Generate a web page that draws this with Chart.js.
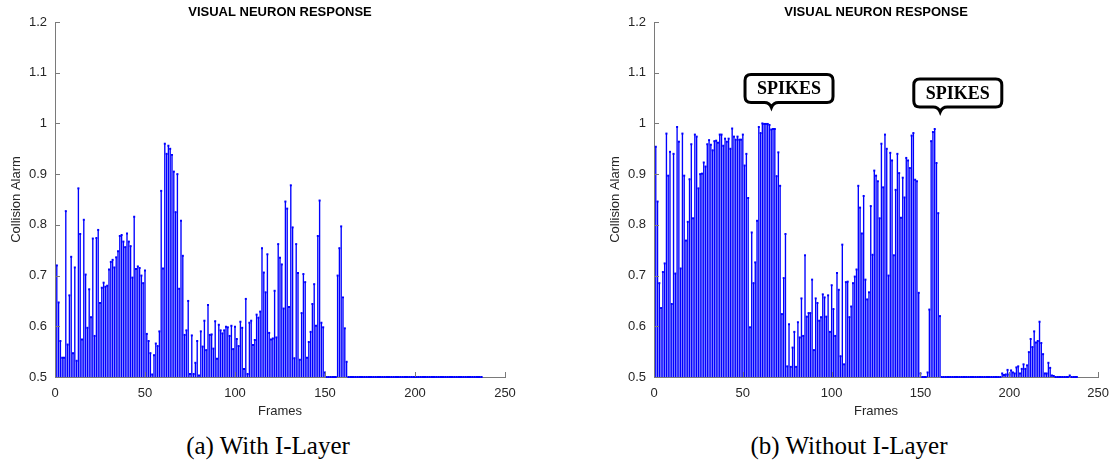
<!DOCTYPE html>
<html>
<head>
<meta charset="utf-8">
<script src="https://cdn.jsdelivr.net/npm/chart.js@4.4.1/dist/chart.umd.min.js"></script>
<style>
  body { margin: 0; background: #fff; width: 1118px; height: 465px; position: relative; overflow: hidden; }
  .plot { position: absolute; top: 0; height: 430px; }
  #left { left: 0; width: 560px; }
  #right { left: 599px; width: 519px; }
  .cap { position: absolute; top: 432px; line-height: 27px; font-family: "Liberation Serif", "Times New Roman", serif;
         font-size: 25px; color: #000; white-space: nowrap; transform: translateX(-50%); }
</style>
</head>
<body>
<div class="plot" id="left"><canvas id="chartA"></canvas></div>
<div class="plot" id="right"><canvas id="chartB"></canvas></div>
<div class="cap" style="left:268px">(a) With I-Layer</div>
<div class="cap" style="left:849px">(b) Without I-Layer</div>
<script>
// collision alarm per frame, starting at frame 1
const withILayer = [
  0.72, 0.647, 0.571, 0.538, 0.538, 0.827, 0.564, 0.661, 0.737, 0.547,
  0.716, 0.532, 0.872, 0.782, 0.574, 0.81, 0.702, 0.597, 0.673, 0.618,
  0.773, 0.581, 0.774, 0.79, 0.646, 0.676, 0.686, 0.678, 0.68, 0.712,
  0.727, 0.731, 0.716, 0.736, 0.748, 0.778, 0.78, 0.767, 0.756, 0.783,
  0.767, 0.758, 0.696, 0.816, 0.713, 0.718, 0.715, 0.7, 0.685, 0.71,
  0.585, 0.571, 0.547, 0.505, 0.543, 0.566, 0.561, 0.59, 0.867, 0.714,
  0.96, 0.94, 0.956, 0.95, 0.938, 0.905, 0.825, 0.9, 0.674, 0.808,
  0.739, 0.583, 0.592, 0.65, 0.506, 0.582, 0.506, 0.528, 0.571, 0.503,
  0.59, 0.56, 0.611, 0.553, 0.642, 0.583, 0.584, 0.556, 0.61, 0.536,
  0.603, 0.592, 0.586, 0.592, 0.599, 0.598, 0.581, 0.601, 0.555, 0.599,
  0.575, 0.561, 0.609, 0.597, 0.516, 0.654, 0.506, 0.607, 0.611, 0.563,
  0.573, 0.623, 0.617, 0.629, 0.754, 0.706, 0.667, 0.742, 0.587, 0.574,
  0.576, 0.67, 0.578, 0.762, 0.735, 0.722, 0.635, 0.846, 0.832, 0.638,
  0.878, 0.795, 0.537, 0.762, 0.705, 0.534, 0.626, 0.703, 0.687, 0.538,
  0.569, 0.589, 0.644, 0.683, 0.601, 0.778, 0.848, 0.607, 0.598, 0.509,
  0.5, 0.5, 0.5, 0.5, 0.5, 0.5, 0.7, 0.754, 0.797, 0.657,
  0.596, 0.53, 0.5, 0.5, 0.5, 0.5, 0.5, 0.5, 0.5, 0.5,
  0.5, 0.5, 0.5, 0.5, 0.5, 0.5, 0.5, 0.5, 0.5, 0.5,
  0.5, 0.5, 0.5, 0.5, 0.5, 0.5, 0.5, 0.5, 0.5, 0.5,
  0.5, 0.5, 0.5, 0.5, 0.5, 0.5, 0.5, 0.5, 0.5, 0.5,
  0.5, 0.5, 0.5, 0.5, 0.5, 0.5, 0.5, 0.5, 0.5, 0.5,
  0.5, 0.5, 0.5, 0.5, 0.5, 0.5, 0.5, 0.5, 0.5, 0.5,
  0.5, 0.5, 0.5, 0.5, 0.5, 0.5, 0.5, 0.5, 0.5, 0.5,
  0.5, 0.5, 0.5, 0.5, 0.5, 0.5, 0.5
];

const withoutILayer = [
  0.954, 0.846, 0.685, 0.636, 0.707, 0.724, 0.98, 0.897, 0.944, 0.644,
  0.94, 0.704, 0.993, 0.964, 0.714, 0.98, 0.897, 0.769, 0.806, 0.89,
  0.959, 0.813, 0.978, 0.974, 0.872, 0.9, 0.901, 0.923, 0.915, 0.959,
  0.967, 0.958, 0.947, 0.965, 0.966, 0.962, 0.978, 0.978, 0.956, 0.97,
  0.964, 0.97, 0.95, 0.99, 0.974, 0.968, 0.974, 0.968, 0.968, 0.978,
  0.917, 0.94, 0.853, 0.598, 0.785, 0.685, 0.726, 0.808, 0.993, 0.981,
  1.0, 0.999, 0.999, 0.999, 0.997, 0.988, 0.989, 0.989, 0.896, 0.943,
  0.877, 0.624, 0.695, 0.782, 0.521, 0.604, 0.52, 0.558, 0.589, 0.52,
  0.608, 0.578, 0.655, 0.581, 0.74, 0.619, 0.626, 0.626, 0.692, 0.553,
  0.655, 0.646, 0.611, 0.618, 0.663, 0.657, 0.619, 0.661, 0.589, 0.681,
  0.634, 0.581, 0.705, 0.672, 0.541, 0.761, 0.525, 0.687, 0.688, 0.618,
  0.639, 0.685, 0.698, 0.712, 0.877, 0.834, 0.783, 0.857, 0.692, 0.653,
  0.667, 0.837, 0.741, 0.907, 0.897, 0.886, 0.813, 0.96, 0.874, 0.978,
  0.95, 0.7, 0.942, 0.927, 0.74, 0.869, 0.94, 0.902, 0.814, 0.893,
  0.854, 0.932, 0.927, 0.912, 0.976, 0.981, 0.889, 0.886, 0.666, 0.507,
  0.5, 0.5, 0.5, 0.509, 0.633, 0.965, 0.983, 0.989, 0.922, 0.823,
  0.62, 0.5, 0.5, 0.5, 0.5, 0.5, 0.5, 0.5, 0.5, 0.5,
  0.5, 0.5, 0.5, 0.5, 0.5, 0.5, 0.5, 0.5, 0.5, 0.5,
  0.5, 0.5, 0.5, 0.5, 0.5, 0.5, 0.5, 0.5, 0.5, 0.5,
  0.5, 0.5, 0.5, 0.5, 0.5, 0.507, 0.504, 0.505, 0.514, 0.505,
  0.513, 0.509, 0.507, 0.519, 0.521, 0.507, 0.516, 0.525, 0.516, 0.523,
  0.549, 0.575, 0.559, 0.59, 0.568, 0.571, 0.609, 0.567, 0.545, 0.507,
  0.507, 0.528, 0.518, 0.503, 0.502, 0.5, 0.5, 0.5, 0.5, 0.5,
  0.5, 0.5, 0.5, 0.503, 0.5, 0.5, 0.5, 0.5
];

const xTicks = [0, 50, 100, 150, 200, 250];
const yTicks = [0.5, 0.6, 0.7, 0.8, 0.9, 1, 1.1, 1.2];

// callouts on panel (b), in data units
const spikeNotes = [
  { frame: 76, value: 1.069, text: 'SPIKES' },
  { frame: 171, value: 1.06, text: 'SPIKES' }
];

const axisGray = '#7a7a7a';
const textDark = '#262626';
const sans = '"Liberation Sans", Arial, sans-serif';

const inwardTicks = {
  id: 'inwardTicks',
  afterDraw(chart) {
    const { ctx, chartArea, scales } = chart;
    ctx.save();
    ctx.strokeStyle = axisGray;
    ctx.lineWidth = 1;
    ctx.beginPath();
    scales.y.ticks.forEach(t => {
      const y = Math.round(scales.y.getPixelForValue(t.value)) + 0.5;
      ctx.moveTo(chartArea.left, y);
      ctx.lineTo(chartArea.left + 5, y);
    });
    scales.x.ticks.forEach(t => {
      const x = Math.round(scales.x.getPixelForValue(t.value)) + 0.5;
      ctx.moveTo(x, chartArea.bottom);
      ctx.lineTo(x, chartArea.bottom - 5);
    });
    ctx.stroke();
    ctx.restore();
  }
};

// title centred over the plot area rather than the whole canvas
const plotTitle = {
  id: 'plotTitle',
  afterDraw(chart, args, opts) {
    const { ctx, chartArea } = chart;
    ctx.save();
    ctx.fillStyle = '#000';
    ctx.font = 'bold 13px ' + sans;
    ctx.textAlign = 'center';
    ctx.textBaseline = 'middle';
    ctx.fillText(opts.text, (chartArea.left + chartArea.right) / 2, 12);
    ctx.restore();
  }
};

const calloutPlugin = {
  id: 'callouts',
  afterDraw(chart, args, opts) {
    if (!opts.notes) return;
    const { ctx, scales } = chart;
    opts.notes.forEach(n => {
      const cx = scales.x.getPixelForValue(n.frame);
      const cy = scales.y.getPixelForValue(n.value);
      const w = 88, h = 28, r = 6;
      const x = cx - w / 2, y = cy - h / 2;
      const nx = x + w * 0.3;
      ctx.save();
      ctx.beginPath();
      ctx.moveTo(x + r, y);
      ctx.lineTo(x + w - r, y);
      ctx.quadraticCurveTo(x + w, y, x + w, y + r);
      ctx.lineTo(x + w, y + h - r);
      ctx.quadraticCurveTo(x + w, y + h, x + w - r, y + h);
      ctx.lineTo(nx + 7, y + h);
      ctx.quadraticCurveTo(nx + 2, y + h, nx, y + h + 5);
      ctx.quadraticCurveTo(nx - 2, y + h, nx - 7, y + h);
      ctx.lineTo(x + r, y + h);
      ctx.quadraticCurveTo(x, y + h, x, y + h - r);
      ctx.lineTo(x, y + r);
      ctx.quadraticCurveTo(x, y, x + r, y);
      ctx.closePath();
      ctx.fillStyle = '#fff';
      ctx.fill();
      ctx.lineWidth = 3;
      ctx.strokeStyle = '#000';
      ctx.stroke();
      ctx.fillStyle = '#000';
      ctx.font = 'bold 18px "Liberation Serif", "Times New Roman", serif';
      ctx.textAlign = 'center';
      ctx.textBaseline = 'middle';
      ctx.fillText(n.text, cx, cy + 1);
      ctx.restore();
    });
  }
};

function makeChart(id, values, rightPad, notes) {
  const points = values.map((v, i) => ({ x: i + 1, y: v }));
  return new Chart(document.getElementById(id), {
    type: 'scatter',
    data: {
      datasets: [
        {
          type: 'bar',
          data: points,
          base: 0.5,
          backgroundColor: '#0000ff',
          barThickness: 0.7,
          order: 2
        },
        {
          type: 'scatter',
          data: points,
          pointStyle: 'rect',
          pointRadius: 1.4,
          pointBackgroundColor: '#0000ff',
          pointBorderWidth: 0,
          clip: false,
          order: 1
        }
      ]
    },
    options: {
      responsive: true,
      maintainAspectRatio: false,
      animation: false,
      layout: { padding: { left: 0, right: rightPad, top: 22, bottom: 0 } },
      plugins: {
        legend: { display: false },
        tooltip: { enabled: false },
        title: { display: false },
        plotTitle: { text: 'VISUAL NEURON RESPONSE' },
        callouts: { notes: notes }
      },
      scales: {
        x: {
          type: 'linear',
          min: 0,
          max: 250,
          offset: false,
          afterBuildTicks: s => { s.ticks = xTicks.map(v => ({ value: v })); },
          afterFit: s => { s.height = 53; },
          grid: { display: false, drawTicks: false },
          border: { display: true, color: axisGray, width: 1 },
          ticks: { color: textDark, padding: 9, font: { family: sans, size: 13 }, callback: v => String(v) },
          title: { display: true, text: 'Frames', color: textDark, font: { family: sans, size: 13 }, padding: { top: 0, bottom: 11 } }
        },
        y: {
          min: 0.5,
          max: 1.2,
          afterBuildTicks: s => { s.ticks = yTicks.map(v => ({ value: v })); },
          afterFit: s => { s.width = 55; },
          grid: { display: false, drawTicks: false },
          border: { display: true, color: axisGray, width: 1 },
          ticks: { color: textDark, padding: 8, font: { family: sans, size: 13 }, callback: v => String(v) },
          title: { display: true, text: 'Collision Alarm', color: textDark, font: { family: sans, size: 13 }, padding: { top: 9, bottom: 0 } }
        }
      }
    },
    plugins: [inwardTicks, plotTitle, calloutPlugin]
  });
}

makeChart('chartA', withILayer, 55, null);
makeChart('chartB', withoutILayer, 16, spikeNotes);
</script>
</body>
</html>
